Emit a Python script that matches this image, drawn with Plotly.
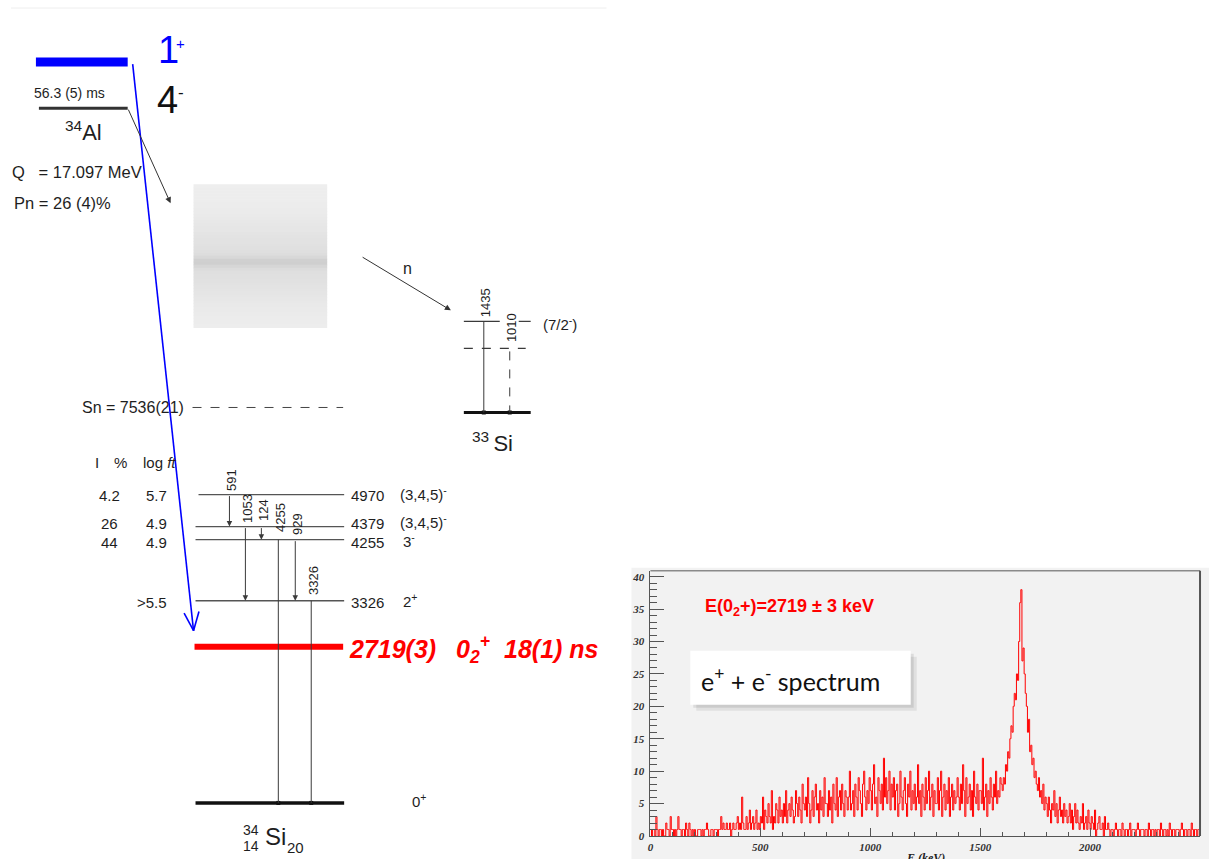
import math
import plotly.graph_objects as go

# ======================= DATA =======================
parent_nucleus = "<sup>34</sup>Al"
parent_halflife = "56.3 (5) ms"
parent_spins = [("1", "+"), ("4", "-")]
q_beta = "Q   = 17.097 MeV"
p_n = "Pn = 26 (4)%"
s_n = "Sn = 7536(21)"
feeding_header = ["I", "%", "log <i>ft</i>"]

si34_levels = [4970, 4379, 4255, 3326, 2719, 0]
si34_spins = ["(3,4,5)<sup>-</sup>", "(3,4,5)<sup>-</sup>", "3<sup>-</sup>", "2<sup>+</sup>", "", "0<sup>+</sup>"]
feeding_I = ["4.2", "26", "44", "", "", ""]
feeding_logft = ["5.7", "4.9", "4.9", ">5.5", "", ""]
new_level_text = ["2719(3)", "0<sub>2</sub><sup>+</sup>", "18(1) ns"]

gamma_E = [591, 1053, 124, 4255, 929, 3326]
gamma_from = [4970, 4379, 4379, 4255, 4255, 3326]
gamma_to = [4379, 3326, 4255, 0, 3326, 0]

si33_levels = [1435, 1010, 0]
si33_spin = "(7/2<sup>-</sup>)"
si33_gammas = [1435, 1010]
si33_nucleus = "<sup>33 </sup>Si"

spec_bin_keV = 5
spec_counts = [
    1, 0, 1, 1, 0, 3, 1, 0, 1, 1, 0, 1, 0, 0, 2, 1, 1, 0, 3, 1,          # 0-100
    1, 0, 1, 0, 1, 3, 1, 1, 0, 1, 1, 0, 2, 1, 0, 2, 1, 0, 1, 0,          # 100-200
    1, 0, 0, 1, 1, 1, 0, 1, 0, 1, 1, 2, 1, 0, 0, 1, 1, 0, 1, 1,          # 200-300
    1, 0, 1, 1, 3, 1, 2, 1, 1, 2, 1, 1, 2, 0, 1, 2, 1, 1, 2, 3,          # 300-400
    1, 2, 1, 6, 2, 1, 1, 3, 1, 2, 4, 1, 2, 3, 1, 2, 4, 1, 2, 1,          # 400-500
    3, 2, 6, 1, 4, 3, 2, 5, 3, 2, 7, 1, 3, 2, 5, 4, 2, 6, 3, 4,          # 500-600
    2, 5, 3, 7, 2, 4, 5, 3, 6, 4, 2, 3, 7, 5, 3, 6, 4, 2, 8, 5,          # 600-700
    4, 6, 3, 9, 5, 2, 4, 7, 3, 6, 8, 4, 5, 2, 7, 4, 6, 3, 9, 5,          # 700-800
    5, 3, 7, 4, 6, 2, 8, 5, 4, 9, 3, 6, 7, 4, 8, 5, 3, 7, 6, 4,          # 800-900
    6, 10, 4, 5, 7, 3, 8, 6, 4, 9, 7, 5, 3, 8, 10, 6, 4, 7, 5, 9,        # 900-1000
    7, 4, 8, 11, 5, 6, 3, 9, 7, 5, 8, 4, 12, 6, 9, 5, 7, 10, 4, 8,       # 1000-1100
    6, 9, 4, 7, 8, 3, 5, 10, 6, 4, 7, 9, 5, 3, 8, 6, 10, 4, 7, 5,        # 1100-1200
    8, 4, 6, 11, 5, 7, 3, 8, 6, 4, 9, 5, 7, 10, 4, 6, 8, 3, 7, 5,        # 1200-1300
    5, 9, 4, 7, 10, 3, 6, 8, 4, 7, 5, 9, 3, 6, 8, 4, 7, 5, 6, 9,         # 1300-1400
    6, 4, 8, 5, 11, 7, 3, 9, 5, 6, 8, 4, 7, 3, 10, 6, 5, 8, 4, 7,        # 1400-1500
    7, 5, 12, 4, 6, 8, 3, 7, 5, 9, 6, 4, 8, 6, 10, 5, 7, 6, 9, 8,        # 1500-1600
    7, 9, 8, 11, 10, 13, 12, 15, 17, 16, 20, 22, 21, 25, 24, 30, 36, 38, 27, 29,  # 1600-1700
    25, 22, 20, 16, 18, 13, 14, 11, 12, 9, 10, 8, 7, 9, 6, 7, 5, 8, 4, 6,  # 1700-1800
    5, 3, 6, 4, 2, 5, 4, 7, 3, 5, 2, 4, 6, 3, 4, 2, 5, 3, 4, 2,          # 1800-1900
    3, 5, 2, 4, 1, 3, 5, 2, 4, 2, 1, 3, 2, 5, 1, 2, 3, 1, 4, 2,          # 1900-2000
    1, 3, 2, 1, 4, 0, 1, 2, 3, 1, 1, 2, 0, 3, 1, 1, 2, 1, 0, 1,          # 2000-2100
    1, 0, 1, 2, 1, 0, 1, 1, 0, 2, 1, 0, 1, 1, 0, 1, 2, 0, 1, 1,          # 2100-2200
    1, 0, 1, 2, 1, 0, 1, 1, 1, 0, 1, 1, 0, 2, 1, 0, 1, 1, 0, 1,          # 2200-2300
    0, 1, 1, 0, 2, 1, 0, 1, 1, 0, 1, 0, 2, 1, 0, 1, 1, 0, 1, 1,          # 2300-2400
    1, 0, 1, 2, 1, 0, 1, 1, 0, 1, 1, 0, 2, 1, 0, 1, 1, 0, 1, 1,          # 2400-2500
]
spec_xticks = [0, 500, 1000, 1500, 2000, 2500]
spec_yticks = [0, 5, 10, 15, 20, 25, 30, 35, 40]
spec_title = "E(0<sub>2</sub>+)=2719 ± 3 keV"
spec_box = "e<sup>+</sup> + e<sup>-</sup> spectrum"
spec_xlabel = "E (keV)"

# ======================= LAYOUT (pixel positions) =======================
W, H = 1209, 859          # target picture size
FIG_H = 866               # page is captured ~866 px tall and scaled to 859
Y34 = {4970: 494, 4379: 526, 4255: 539, 3326: 600, 2719: 646, 0: 802}
LBLY = {4970: 495, 4379: 523, 4255: 542, 3326: 602}
GX = {591: 227, 1053: 243, 124: 259, 4255: 276, 929: 293, 3326: 309}
GLY = {591: 479, 1053: 508, 124: 509, 4255: 517, 929: 523, 3326: 580}
Y33 = {1435: 321, 1010: 348, 0: 412}
G33X = {1435: 482, 1010: 508}
G33LY = {1435: 302, 1010: 327}

SANS = "Liberation Sans, Arial, sans-serif"
SERIF = "Liberation Serif, Times New Roman, serif"
INK = "#1e1e1e"
LINE = "#3a3a3a"

shapes, annots = [], []


def T(x, y, s, size=16, color=INK, xa="left", ya="middle", family=SANS,
      angle=0, bold=False, italic=False):
    f = dict(family=family, size=size, color=color)
    if bold:
        f["weight"] = "bold"
    if italic:
        f["style"] = "italic"
    annots.append(dict(x=x, y=y, xref="x", yref="y", text=s, showarrow=False,
                       xanchor=xa, yanchor=ya, font=f, textangle=angle,
                       borderpad=0))


def A(x0, y0, x1, y1, color=LINE, width=1, head=2, size=1.0):
    annots.append(dict(x=x1, y=y1, ax=x0, ay=y0, xref="x", yref="y",
                       axref="x", ayref="y", text="", showarrow=True,
                       arrowhead=head, arrowsize=size, arrowwidth=width,
                       arrowcolor=color, standoff=0, startstandoff=0))


def L(x0, y0, x1, y1, color=LINE, width=1, dash="solid"):
    shapes.append(dict(type="line", xref="x", yref="y", x0=x0, y0=y0,
                       x1=x1, y1=y1, layer="above",
                       line=dict(color=color, width=width, dash=dash)))


def R(x0, y0, x1, y1, fill, layer="above"):
    shapes.append(dict(type="rect", xref="x", yref="y", x0=x0, y0=y0,
                       x1=x1, y1=y1, layer=layer, fillcolor=fill,
                       line=dict(width=0)))


# faint frame line at top of left panel
L(8, 8, 605, 8, color="#eeeeee", width=1)

# ---------- parent 34Al ----------
L(33, 62, 125, 62, color="#0000ff", width=9)
T(154, 50, parent_spins[0][0], size=38, color="#0000ff")
T(172, 43, parent_spins[0][1], size=15, color="#0000ff")
T(153, 100, parent_spins[1][0], size=38, color="#111111")
T(174, 92, parent_spins[1][1], size=17, color="#111111")
T(67, 93, parent_halflife, size=14, xa="center")
L(36, 108, 125, 108, color="#333333", width=3)
T(81, 131, parent_nucleus, size=22, xa="center")
T(8, 172, q_beta, size=16.5)
T(10, 203, p_n, size=16.5)
A(125, 108, 168, 203, color="#333333", width=1, head=2, size=1.2)

# gradient box (unresolved strength)
nstrip = 48
bx0, by0, bx1, by1 = 191, 184, 325, 327
for i in range(nstrip):
    ya = by0 + (by1 - by0) * i / nstrip
    yb = by0 + (by1 - by0) * (i + 1) / nstrip
    yc = 0.5 * (ya + yb)
    g = 238 - 16 * math.exp(-((yc - 262) / 40) ** 2) - 16 * math.exp(-((yc - 262) / 5) ** 2)
    g = int(round(g))
    R(bx0, ya, bx1, yb + 0.5, f"rgb({g},{g},{g})")

# neutron branch to 33Si
A(359, 256, 449, 310, color="#333333", width=1, head=2, size=1.2)
T(405, 268, "n", size=16, xa="center")
L(462, Y33[1435], 498, Y33[1435], width=1.2)
L(517, Y33[1435], 529, Y33[1435], width=1.2)
L(462, Y33[1010], 524, Y33[1010], width=1.2, dash="dash")
L(462, Y33[0], 529, Y33[0], color="#111111", width=3)
L(G33X[1435], Y33[1435], G33X[1435], Y33[0], width=1)
L(G33X[1010], Y33[1010] + 3, G33X[1010], Y33[0], width=1, dash="dash")
for e in si33_gammas:
    T(G33X[e] + 2, G33LY[e], str(e), size=13, xa="center", angle=-90)
T(540, 323, si33_spin, size=15)
T(491, 441, si33_nucleus, size=22, xa="center")

# Sn line
T(78, 407, s_n, size=16)
L(190, 407, 341, 407, color="#444444", width=1, dash="dash")

# feeding table header
T(91, 462, feeding_header[0], size=15)
T(110, 462, feeding_header[1], size=15)
T(139, 462, feeding_header[2], size=15)

# ---------- 34Si levels ----------
for i, e in enumerate(si34_levels):
    y = Y34[e]
    if e == 2719:
        L(192, y, 341, y, color="#ff0000", width=6)
        continue
    if e == 0:
        L(193, y, 342, y, color="#111111", width=3.5)
        T(409, y - 2, si34_spins[i], size=15)
        continue
    L(196 if e == 4970 else 193, y, 342, y, color="#555555", width=1.4)
    T(348, LBLY[e], str(e), size=15)
    T(397 if e in (4970, 4379) else 400, LBLY[e] - 2, si34_spins[i], size=15)
    if feeding_I[i]:
        T(107, LBLY[e], feeding_I[i], size=15, xa="center")
    if feeding_logft[i]:
        T(165, LBLY[e], feeding_logft[i], size=15, xa="right")

# new 0+2 level label (red)
T(346, 648, new_level_text[0], size=25, color="#ff0000", bold=True, italic=True)
T(453, 648, new_level_text[1], size=25, color="#ff0000", bold=True, italic=True)
T(501, 648, new_level_text[2], size=25, color="#ff0000", bold=True, italic=True)

# gamma transitions
for e, fr, to in zip(gamma_E, gamma_from, gamma_to):
    x = GX[e]
    if to == 0:
        L(x, Y34[fr], x, Y34[to], width=1)
    else:
        A(x, Y34[fr], x, Y34[to], width=1, head=2, size=1.1)
    T(x + 2, GLY[e], str(e), size=13, xa="center", angle=-90)

# 34Si nucleus label
T(249, 829, "34", size=14, xa="center")
T(249, 845, "14", size=14, xa="center")
T(273, 836, "Si", size=24, xa="center")
T(293, 847, "20", size=15, xa="center")

# blue beta-feeding arrow
bx_s, by_s, bx_t, by_t = 130, 64, 191, 630
L(bx_s, by_s, bx_t, by_t, color="#0000ff", width=1.6)
dx, dy = bx_t - bx_s, by_t - by_s
nrm = math.hypot(dx, dy)
ux, uy = dx / nrm, dy / nrm
for sgn in (1, -1):
    ang = math.radians(22) * sgn
    rx = ux * math.cos(ang) - uy * math.sin(ang)
    ry = ux * math.sin(ang) + uy * math.cos(ang)
    L(bx_t, by_t, bx_t - 20 * rx, by_t - 20 * ry, color="#0000ff", width=1.6)

# ---------- spectrum panel ----------
PX0, PX1, PY0, PY1 = 649, 1200, 570, 835   # frame in picture pixels
ymax = 40 * (PY1 - PY0) / (PY1 - 576)
shapes.insert(0, dict(type="rect", xref="paper", yref="paper",
                      x0=630 / W, x1=1.0, y0=0.0, y1=1 - 567 / H,
                      fillcolor="#f2f2f2", line=dict(width=0), layer="below"))
L(PX0, PY0, PX1, PY0, color="#8a8a8a", width=1.5)
L(PX1, PY0, PX1, PY1, color="#555555", width=2)
# white box with shadow
R(695, 656, 916, 710, "rgba(0,0,0,0.07)")
R(692, 653, 913, 707, "rgba(0,0,0,0.09)")
R(689, 650, 910, 704, "#ffffff")
T(699, 679, spec_box, size=25, color="#111111", family="Lato, Open Sans, sans-serif")
T(703, 607, spec_title, size=18, color="#ff0000", family=SANS, bold=True)
T((PX0 + PX1) / 2, 857, spec_xlabel, size=12, color="#222222", xa="center",
  family=SERIF, bold=True, italic=True)

spec_x = [spec_bin_keV * (i + 0.5) for i in range(len(spec_counts))]

fig = go.Figure()
fig.add_trace(go.Scatter(x=spec_x, y=spec_counts, xaxis="x2", yaxis="y2",
                         mode="lines", line=dict(color="#ff0000", width=1, shape="hvh"),
                         hoverinfo="skip"))
# level-end dots
dot_x = [GX[4255], GX[3326], G33X[1435], G33X[1010]]
dot_y = [Y34[0], Y34[0], Y33[0], Y33[0]]
fig.add_trace(go.Scatter(x=dot_x, y=dot_y, mode="markers",
                         marker=dict(symbol="square", size=4, color="#111111"),
                         hoverinfo="skip"))

tickfont = dict(family=SERIF, size=11, color="#333333", style="italic", weight="bold")
fig.update_layout(
    width=W, height=FIG_H, autosize=False,
    margin=dict(l=0, r=0, t=0, b=0, pad=0),
    paper_bgcolor="white", plot_bgcolor="rgba(0,0,0,0)",
    showlegend=False,
    xaxis=dict(range=[0, W], visible=False, domain=[0, 1], fixedrange=True),
    yaxis=dict(range=[H, 0], visible=False, domain=[0, 1], fixedrange=True),
    xaxis2=dict(domain=[PX0 / W, PX1 / W], anchor="y2", range=[0, 2500],
                tickmode="array", tickvals=spec_xticks,
                ticktext=[str(v) for v in spec_xticks],
                ticks="inside", ticklen=8, tickcolor="#555555",
                minor=dict(dtick=100, tick0=0, ticks="inside", ticklen=4, tickcolor="#555555"),
                showline=True, linecolor="#555555", linewidth=1,
                showgrid=False, zeroline=False, tickfont=tickfont,
                ticklabelstandoff=1, fixedrange=True),
    yaxis2=dict(domain=[1 - PY1 / H, 1 - PY0 / H], anchor="x2", range=[0, ymax],
                tickmode="array", tickvals=spec_yticks,
                ticktext=[str(v) for v in spec_yticks],
                ticks="inside", ticklen=14, tickcolor="#555555",
                minor=dict(dtick=1, tick0=0, ticks="inside", ticklen=7, tickcolor="#555555"),
                showline=True, linecolor="#555555", linewidth=1,
                showgrid=False, zeroline=False, tickfont=tickfont,
                ticklabelstandoff=3, fixedrange=True),
    shapes=shapes, annotations=annots,
)
# remove the default 8px page margin so the figure sits at the window origin
fig.write_html("out.html",
               config={"displayModeBar": False, "staticPlot": True},
               post_script="document.body.style.margin='0';"
                           "document.documentElement.style.overflow='hidden';")
